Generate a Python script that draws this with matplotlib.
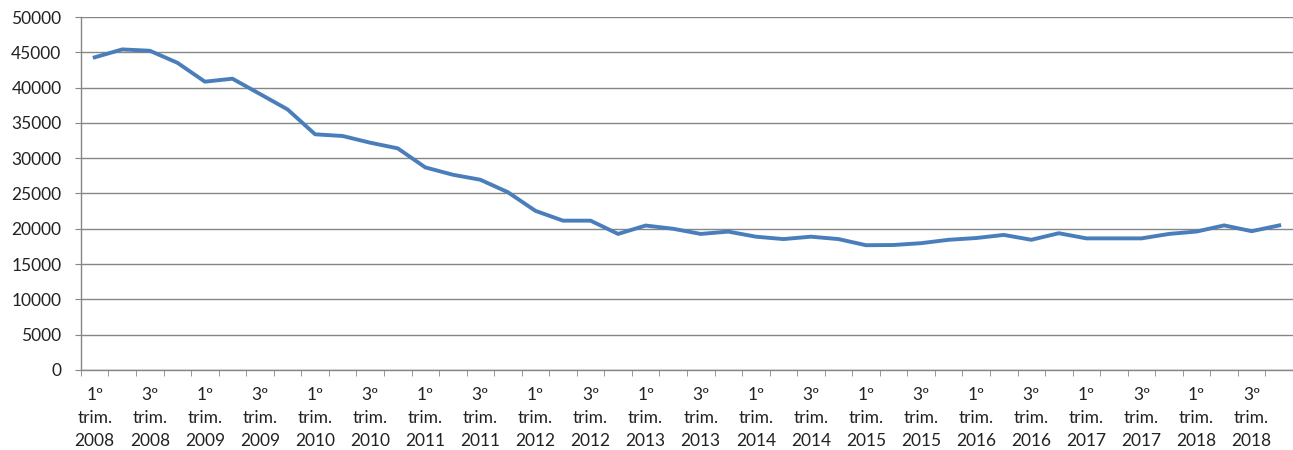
import numpy as np
import matplotlib.pyplot as plt

plt.rcParams['font.family'] = ['Lato', 'DejaVu Sans']

# trimestres 2008 T1 .. 2018 T4
anos = list(range(2008, 2019))
trimestres = [f"{t}º\ntrim.\n{a}" for a in anos for t in (1, 2, 3, 4)]
valores = [44300, 45420, 45230, 43530, 40850, 41270, 39100, 36920,
           33390, 33150, 32200, 31400, 28700, 27660, 26950, 25180,
           22540, 21150, 21150, 19270, 20460, 20000, 19270, 19600,
           18880, 18540, 18880, 18540, 17670, 17700, 17960, 18440,
           18690, 19130, 18440, 19370, 18640, 18640, 18640, 19270,
           19610, 20480, 19660, 20480]

cinza = '#868686'
x = np.arange(len(valores))

fig = plt.figure(figsize=(12.93, 4.5), dpi=100)
ax = fig.add_axes([0.0626, 0.178, 0.9374, 0.784])

ax.plot(x, valores, color='#4A7EBB', linewidth=2.8, solid_joinstyle='round')

ax.set_ylim(0, 50000)
ax.set_yticks(np.arange(0, 50001, 5000))
ax.set_xlim(-0.5, len(valores) - 0.5)

ax.set_xticks(x[::2])
ax.set_xticklabels(trimestres[::2], linespacing=1.55)
ax.set_xticks(np.arange(-0.5, len(valores)), minor=True)

ax.grid(axis='y', color=cinza, linewidth=1)
ax.set_axisbelow(True)

for lado in ['top', 'right']:
    ax.spines[lado].set_visible(False)
for lado in ['left', 'bottom']:
    ax.spines[lado].set_color(cinza)
    ax.spines[lado].set_linewidth(1)

ax.tick_params(axis='y', length=4, color=cinza, pad=10, labelsize=12.5, labelcolor='#222222')
ax.tick_params(axis='x', which='major', length=0, pad=12, labelsize=12.5, labelcolor='#222222')
ax.tick_params(axis='x', which='minor', length=4, color=cinza)

fig.savefig('out.png', dpi=100)
